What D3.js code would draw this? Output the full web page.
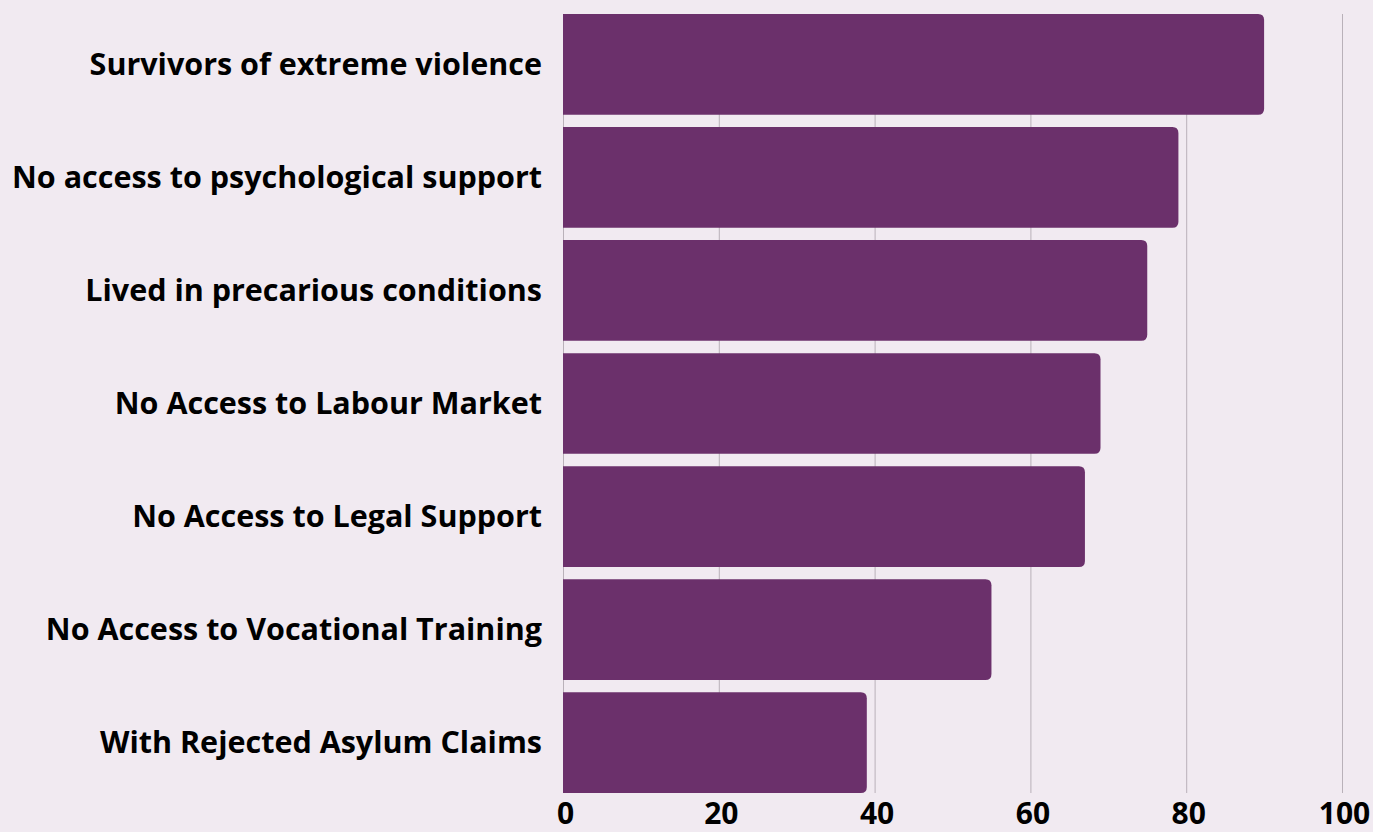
<!DOCTYPE html>
<html>
<head>
<meta charset="utf-8">
<script src="https://cdn.jsdelivr.net/npm/d3@7"></script>
<style>
  html, body { margin: 0; padding: 0; background: #f1eaf1; }
  svg { display: block; }
</style>
</head>
<body>
<div id="chart"></div>
<script>
const categories = [
  "Survivors of extreme violence",
  "No access to psychological support",
  "Lived in precarious conditions",
  "No Access to Labour Market",
  "No Access to Legal Support",
  "No Access to Vocational Training",
  "With Rejected Asylum Claims"
];
const values = [90, 79, 75, 69, 67, 55, 39];
const tickValues = [0, 20, 40, 60, 80, 100];

const width = 1373;
const height = 832;
const marginLeft = 563;
const marginRight = 31;
const marginTop = 14;
const plotBottom = 793;

const x = d3.scaleLinear()
    .domain([0, 100])
    .range([marginLeft, width - marginRight]);

const y = d3.scaleBand()
    .domain(categories)
    .range([marginTop, plotBottom])
    .paddingInner(0.11)
    .paddingOuter(0);

const svg = d3.create("svg")
    .attr("width", width)
    .attr("height", height)
    .attr("viewBox", [0, 0, width, height]);

svg.append("rect")
    .attr("width", width)
    .attr("height", height)
    .attr("fill", "#f1eaf1");

// grid
svg.append("g")
    .selectAll("line")
    .data(tickValues)
    .join("line")
      .attr("x1", d => x(d) + 0.5)
      .attr("x2", d => x(d) + 0.5)
      .attr("y1", marginTop)
      .attr("y2", plotBottom)
      .attr("stroke", "#b9b1b9")
      .attr("stroke-width", 1);

// bars, rounded on the right only
function barPath(x0, x1, y0, h, r) {
  return `M${x0},${y0}H${x1 - r}Q${x1},${y0} ${x1},${y0 + r}V${y0 + h - r}Q${x1},${y0 + h} ${x1 - r},${y0 + h}H${x0}Z`;
}

svg.append("g")
    .attr("fill", "#6b306b")
    .selectAll("path")
    .data(categories)
    .join("path")
      .attr("d", (d, i) => barPath(x(0), x(values[i]), y(d), y.bandwidth(), 6));

// category labels
svg.append("g")
    .attr("font-family", "'Open Sans', sans-serif")
    .attr("font-weight", 700)
    .attr("font-size", 30.5)
    .attr("fill", "#000")
    .attr("text-anchor", "end")
    .selectAll("text")
    .data(categories)
    .join("text")
      .attr("x", marginLeft - 21)
      .attr("y", d => y(d) + y.bandwidth() / 2)
      .attr("dy", "0.35em")
      .text(d => d);

// x axis labels
svg.append("g")
    .attr("transform", `translate(0,${height})`)
    .call(d3.axisBottom(x).tickValues(tickValues).tickSize(0).tickPadding(0))
    .call(g => g.select(".domain").remove())
    .call(g => g.selectAll(".tick text")
        .attr("x", 2)
        .attr("y", -8)
        .attr("dy", 0)
        .attr("font-family", "'Open Sans', sans-serif")
        .attr("font-weight", 700)
        .attr("font-size", 30)
        .attr("fill", "#000"));

document.getElementById("chart").append(svg.node());
</script>
</body>
</html>
